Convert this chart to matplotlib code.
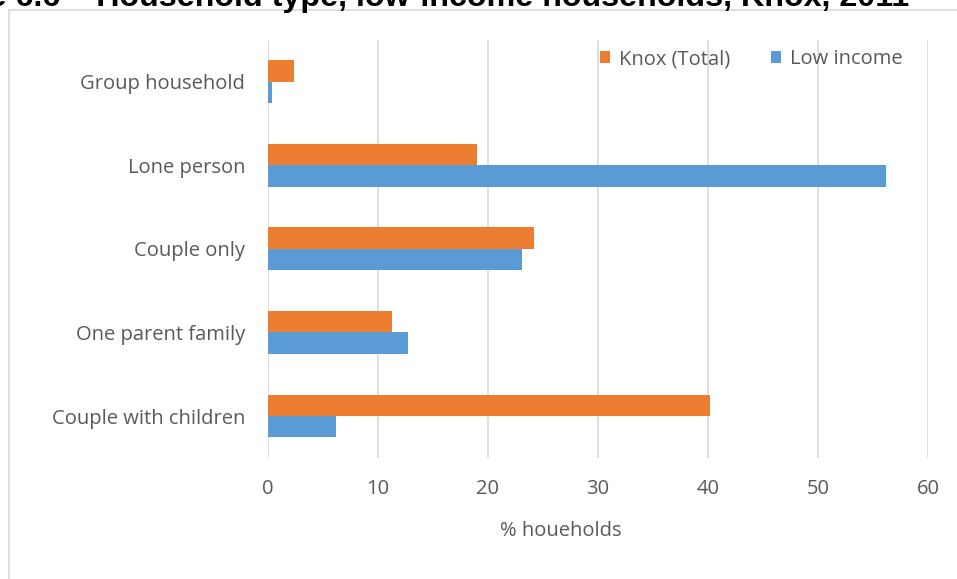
import numpy as np
import matplotlib
matplotlib.use('Agg')
import matplotlib.pyplot as plt
from matplotlib.patches import Rectangle

# ========== Data ==========
categories = ['Group household', 'Lone person', 'Couple only',
              'One parent family', 'Couple with children']
knox_total = [2.45, 19.0, 24.2, 11.3, 40.2]
low_income = [0.45, 56.2, 23.1, 12.8, 6.2]
xticks = [0, 10, 20, 30, 40, 50, 60]

ORANGE = '#ED7D31'
BLUE = '#5B9BD5'
TEXT = '#595959'
GRID = '#D9D9D9'
FS = 14.5

plt.rcParams['font.family'] = ['Open Sans', 'DejaVu Sans']

W, H = 957, 579
fig = plt.figure(figsize=(W / 100, H / 100), dpi=100)

# chart frame (runs off the right and bottom edges)
fig.patches.append(Rectangle((9 / W, -0.05), 1.0, 1 - 10 / H + 0.05,
                             transform=fig.transFigure, fill=False,
                             edgecolor=GRID, lw=1.2, zorder=0))

# title, partly cut off at the top
fig.text(909 / W, 1 - 6 / H,
         'Figure 6.6 \u2013 Household type, low-income households, Knox, 2011',
         ha='right', va='baseline', fontsize=23.2, fontweight='bold',
         family='Liberation Sans', color='black')

left, right = 267.5, 928
top, bottom = 39.9, 457.8
ax = fig.add_axes([left / W, 1 - bottom / H, (right - left) / W, (bottom - top) / H])

y = np.arange(len(categories))
h = 0.257
ax.barh(y - h / 2, knox_total, height=h, color=ORANGE, label='Knox (Total)', zorder=3)
ax.barh(y + h / 2, low_income, height=h, color=BLUE, label='Low income', zorder=3)

ax.set_xlim(0, 60)
ax.set_ylim(len(categories) - 0.5, -0.5)
ax.set_xticks(xticks)
ax.set_yticks(y)
ax.set_yticklabels(categories)
ax.tick_params(axis='both', length=0, labelsize=FS, colors=TEXT)
ax.tick_params(axis='y', pad=16)
ax.tick_params(axis='x', pad=15)

ax.grid(axis='x', color=GRID, lw=1.2, zorder=0)
for s in ax.spines.values():
    s.set_visible(False)

ax.set_xlabel('% houeholds', fontsize=FS, color=TEXT)
ax.xaxis.set_label_coords((561 - left) / (right - left), -(531 - bottom) / (bottom - top))
ax.xaxis.label.set_va('center')

fig.legend(loc='center left', bbox_to_anchor=(600 / W, 1 - 59 / H), ncol=2,
           frameon=False, fontsize=FS, labelcolor=TEXT,
           handlelength=0.5, handleheight=0.5, handletextpad=0.45,
           columnspacing=2.0, borderaxespad=0, borderpad=0)

fig.savefig('out.png', dpi=100)
